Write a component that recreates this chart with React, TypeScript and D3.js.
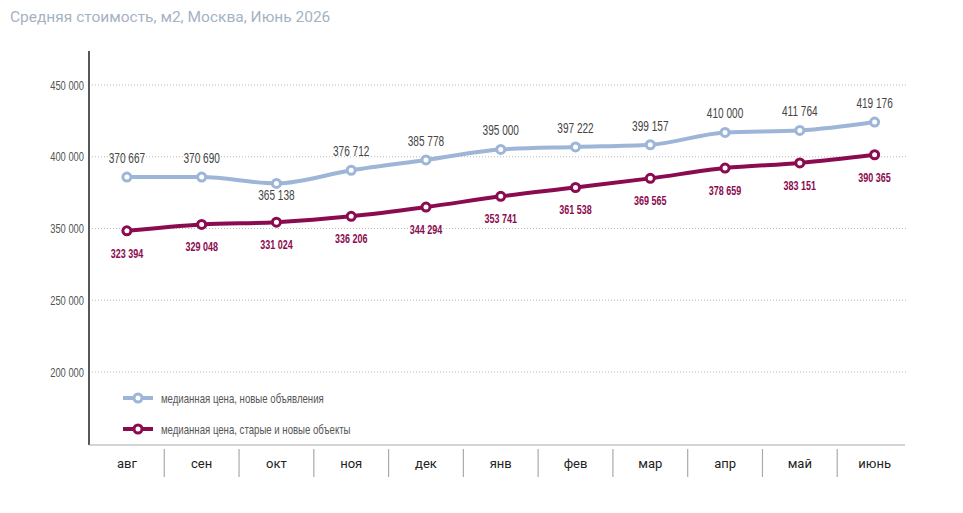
import React from "react";
import * as d3 from "d3";

// Months on the category axis
const months = ["авг", "сен", "окт", "ноя", "дек", "янв", "фев", "мар", "апр", "май", "июнь"];

// Median price of new listings, RUB per m2
const newListings = [370667, 370690, 365138, 376712, 385778, 395000, 397222, 399157, 410000, 411764, 419176];

// Median price, old and new properties, RUB per m2
const allObjects = [323394, 329048, 331024, 336206, 344294, 353741, 361538, 369565, 378659, 383151, 390365];

// Labels printed along the value axis
const yTickLabels = ["450 000", "400 000", "350 000", "250 000", "200 000"];

const seriesNames = ["медианная цена, новые объявления", "медианная цена, старые и новые объекты"];

const title = "Средняя стоимость, м2, Москва, Июнь 2026";

const W = 963;
const H = 513;
const BLUE = "#9db5d7";
const RED = "#8b0b50";
const NARROW = "'Liberation Sans', Arial, sans-serif";
const SANS = "Roboto, 'Noto Sans', Arial, sans-serif";

const fmt = (v: number) => d3.format(",")(v).replace(/,/g, " ");

// Text squeezed horizontally to get a condensed face
function NarrowText(props: {
  x: number;
  y: number;
  anchor?: "start" | "middle" | "end";
  size: number;
  fill: string;
  weight?: string;
  squeeze?: number;
  children: React.ReactNode;
}) {
  const { x, y, anchor = "start", size, fill, weight = "normal", squeeze = 0.72, children } = props;
  return (
    <g transform={`translate(${x},${y}) scale(${squeeze},1)`}>
      <text textAnchor={anchor} fontFamily={NARROW} fontSize={size} fontWeight={weight} fill={fill}>
        {children}
      </text>
    </g>
  );
}

export default function App() {
  const x = d3.scaleBand<string>().domain(months).range([89.5, 912]);
  const cx = (i: number) => (x(months[i]) as number) + x.bandwidth() / 2;

  // value scale for the series
  const y = d3.scaleLinear().domain([200000, 450000]).range([371, 87]);

  // evenly spaced label rows for the value axis
  const yTick = d3.scalePoint<string>().domain(yTickLabels).range([85, 372]);

  const line = d3
    .line<number>()
    .x((_, i) => cx(i))
    .y((d) => y(d))
    .curve(d3.curveMonotoneX);

  const isLocalMin = (arr: number[], i: number) =>
    i > 0 && i < arr.length - 1 && arr[i] < arr[i - 1] && arr[i] < arr[i + 1];

  const axisY = 445;

  return (
    <svg width={W} height={H} style={{ display: "block", position: "absolute", left: 0, top: 0, background: "#fff" }}>
      <text x={10} y={22} fontFamily={SANS} fontSize={15.5} fill="#a5b3c3">
        {title}
      </text>

      {/* value axis grid */}
      {yTickLabels.map((t) => (
        <g key={t}>
          <line
            x1={92}
            x2={906}
            y1={yTick(t)}
            y2={yTick(t)}
            stroke="#bbbbbb"
            strokeWidth={1}
            strokeDasharray="1,2"
          />
          <NarrowText x={84} y={(yTick(t) as number) + 4.5} anchor="end" size={13} fill="#555">
            {t}
          </NarrowText>
        </g>
      ))}

      {/* axes */}
      <line x1={89} x2={89} y1={51} y2={axisY} stroke="#111" strokeWidth={1.4} />
      <line x1={89} x2={905} y1={axisY} y2={axisY} stroke="#aaaaaa" strokeWidth={1.2} />
      {months.slice(1).map((m) => (
        <line
          key={m}
          x1={x(m) as number}
          x2={x(m) as number}
          y1={449}
          y2={477}
          stroke="#aaaaaa"
          strokeWidth={1.2}
        />
      ))}
      {months.map((m, i) => (
        <text key={m} x={cx(i)} y={468} textAnchor="middle" fontFamily={SANS} fontSize={13} fill="#222">
          {m}
        </text>
      ))}

      {/* series lines */}
      <path d={line(newListings) || ""} fill="none" stroke={BLUE} strokeWidth={4} strokeLinejoin="round" />
      <path d={line(allObjects) || ""} fill="none" stroke={RED} strokeWidth={4} strokeLinejoin="round" />

      {newListings.map((v, i) => (
        <circle key={"b" + i} cx={cx(i)} cy={y(v)} r={4} fill="#fff" stroke={BLUE} strokeWidth={3} />
      ))}
      {allObjects.map((v, i) => (
        <circle key={"r" + i} cx={cx(i)} cy={y(v)} r={4} fill="#fff" stroke={RED} strokeWidth={3} />
      ))}

      {/* value labels */}
      {newListings.map((v, i) => {
        const below = isLocalMin(newListings, i);
        return (
          <NarrowText
            key={"bl" + i}
            x={cx(i)}
            y={below ? y(v) + 17 : y(v) - 14}
            anchor="middle"
            size={14}
            fill="#444"
          >
            {fmt(v)}
          </NarrowText>
        );
      })}
      {allObjects.map((v, i) => (
        <NarrowText
          key={"rl" + i}
          x={cx(i)}
          y={y(v) + 27}
          anchor="middle"
          size={12.5}
          weight="bold"
          fill={RED}
        >
          {fmt(v)}
        </NarrowText>
      ))}

      {/* legend */}
      {[BLUE, RED].map((c, i) => {
        const ly = 398 + i * 31;
        return (
          <g key={c}>
            <line x1={123} x2={153} y1={ly} y2={ly} stroke={c} strokeWidth={4} />
            <circle cx={138} cy={ly} r={4} fill="#fff" stroke={c} strokeWidth={3} />
            <NarrowText x={161} y={ly + 4.5} size={13} fill="#555" squeeze={0.74}>
              {seriesNames[i]}
            </NarrowText>
          </g>
        );
      })}
    </svg>
  );
}
